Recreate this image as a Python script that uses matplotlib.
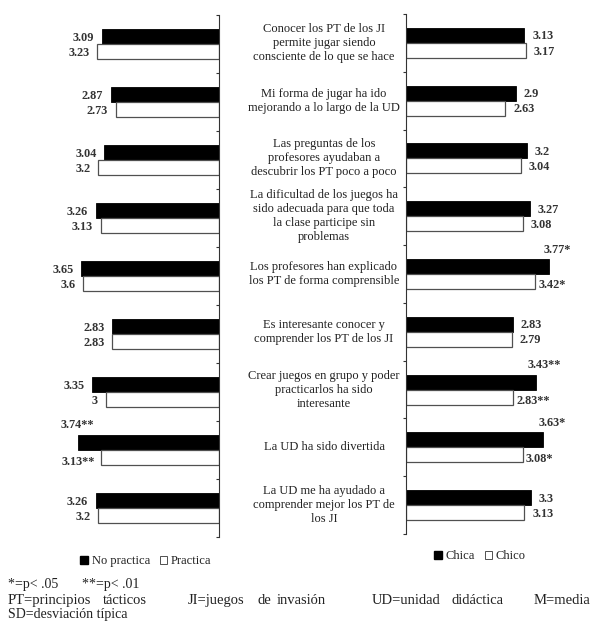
import matplotlib
matplotlib.use("Agg")
import matplotlib.pyplot as plt
import matplotlib.patches as mpatches
import matplotlib.transforms as mtransforms
import numpy as np

plt.rcParams["font.family"] = ["Liberation Serif", "DejaVu Serif"]

# ── data ───────────────────────────────────────────────────────────────────
items = [
    "Conocer los PT de los JI\npermite jugar siendo\nconsciente de lo que se hace",
    "Mi forma de jugar ha ido\nmejorando a lo largo de la UD",
    "Las preguntas de los\nprofesores ayudaban a\ndescubrir los PT poco a poco",
    "La dificultad de los juegos ha\nsido adecuada para que toda\nla clase participe sin\nproblemas",
    "Los profesores han explicado\nlos PT de forma comprensible",
    "Es interesante conocer y\ncomprender los PT de los JI",
    "Crear juegos en grupo y poder\npracticarlos ha sido\ninteresante",
    "La UD ha sido divertida",
    "La UD me ha ayudado a\ncomprender mejor los PT de\nlos JI",
]

no_practica = [3.09, 2.87, 3.04, 3.26, 3.65, 2.83, 3.35, 3.74, 3.26]
practica    = [3.23, 2.73, 3.2, 3.13, 3.6, 2.83, 3, 3.13, 3.2]
practica_sig = ["", "", "", "", "", "", "", "**", ""]

chica = [3.13, 2.9, 3.2, 3.27, 3.77, 2.83, 3.43, 3.63, 3.3]
chico = [3.17, 2.63, 3.04, 3.08, 3.42, 2.79, 2.83, 3.08, 3.13]
sexo_sig = ["", "", "", "", "*", "", "**", "*", ""]

W, H = 592, 626
BAR_H = 0.26
EDGE = "#505050"
VAL_KW = dict(fontsize=8.8, fontweight="bold", color="#333333")


def _frac(x0, y0, x1, y1):
    """pixel box (top-left origin) -> figure-fraction rect"""
    return [x0 / W, 1 - y1 / H, (x1 - x0) / W, (y1 - y0) / H]


fig = plt.figure(figsize=(W / 100, H / 100), dpi=100, facecolor="white")

ax_l = fig.add_axes(_frac(10, 15, 219, 537))
ax_r = fig.add_axes(_frac(405.5, 14, 590, 534))

y = np.arange(len(items))
y_top = y - BAR_H / 2
y_bot = y + BAR_H / 2

for ax in (ax_l, ax_r):
    ax.set_ylim(len(items) - 0.5, -0.5)
    ax.set_yticks(np.arange(-0.5, len(items) + 0.5, 1))
    ax.set_yticklabels([])
    ax.set_xticks([])
    for s in ("top", "bottom", "left", "right"):
        ax.spines[s].set_visible(False)

# left panel: grows to the left from a right-hand axis
ax_l.set_xlim(209 / 37.8, 0)
ax_l.spines["right"].set_visible(True)
ax_l.spines["right"].set_color("#333333")
ax_l.yaxis.tick_right()
ax_l.tick_params(axis="y", direction="in", length=2.5, color="#333333")

ax_l.barh(y_top, no_practica, height=BAR_H, color="black", edgecolor="black", linewidth=0.6)
ax_l.barh(y_bot, practica, height=BAR_H, color="white", edgecolor=EDGE, linewidth=0.9)

for i, (a, b, sig) in enumerate(zip(no_practica, practica, practica_sig)):
    if sig:
        ax_l.annotate(f"{a:g}{sig}", (a, y_top[i]), xytext=(0, 12.5), textcoords="offset points",
                      ha="center", va="center", **VAL_KW)
        ax_l.annotate(f"{b:g}{sig}", (b, y_bot[i]), xytext=(-4, -3), textcoords="offset points",
                      ha="right", va="center", **VAL_KW)
    else:
        ax_l.annotate(f"{a:g}", (a, y_top[i]), xytext=(-5.5, -0.8), textcoords="offset points",
                      ha="right", va="center", **VAL_KW)
        ax_l.annotate(f"{b:g}", (b, y_bot[i]), xytext=(-5.5, -0.8), textcoords="offset points",
                      ha="right", va="center", **VAL_KW)

# right panel
ax_r.set_xlim(0, 184.5 / 38.0)
ax_r.spines["left"].set_visible(True)
ax_r.spines["left"].set_color("#333333")
ax_r.tick_params(axis="y", direction="out", length=2.5, color="#333333")

ax_r.barh(y_top, chica, height=BAR_H, color="black", edgecolor="black", linewidth=0.6)
ax_r.barh(y_bot, chico, height=BAR_H, color="white", edgecolor=EDGE, linewidth=0.9)

for i, (a, b, sig) in enumerate(zip(chica, chico, sexo_sig)):
    if sig:
        ax_r.annotate(f"{a:g}{sig}", (a, y_top[i]), xytext=(6, 12), textcoords="offset points",
                      ha="center", va="center", **VAL_KW)
        ax_r.annotate(f"{b:g}{sig}", (b, y_bot[i]), xytext=(2.5, -2.7), textcoords="offset points",
                      ha="left", va="center", **VAL_KW)
    else:
        ax_r.annotate(f"{a:g}", (a, y_top[i]), xytext=(5.5, -0.8), textcoords="offset points",
                      ha="left", va="center", **VAL_KW)
        ax_r.annotate(f"{b:g}", (b, y_bot[i]), xytext=(5.5, -0.8), textcoords="offset points",
                      ha="left", va="center", **VAL_KW)

# item statements between the two panels
trans = mtransforms.blended_transform_factory(fig.transFigure, ax_r.transData)
for i, txt in enumerate(items):
    ax_r.text(324 / W, y[i], txt, transform=trans, ha="center", va="center",
              fontsize=9, color="#222222", linespacing=1.22, clip_on=False)

# legends
leg_kw = dict(frameon=False, fontsize=9, handlelength=0.6, handleheight=0.6,
              handletextpad=0.3, columnspacing=0.8, ncol=2, borderpad=0, labelcolor="#222222")
fig.legend(handles=[mpatches.Patch(facecolor="black", edgecolor="black", label="No practica"),
                    mpatches.Patch(facecolor="white", edgecolor=EDGE, linewidth=0.7, label="Practica")],
           loc="center", bbox_to_anchor=(146 / W, 1 - 561 / H), **leg_kw)
fig.legend(handles=[mpatches.Patch(facecolor="black", edgecolor="black", label="Chica"),
                    mpatches.Patch(facecolor="white", edgecolor=EDGE, linewidth=0.7, label="Chico")],
           loc="center", bbox_to_anchor=(480 / W, 1 - 556 / H), **leg_kw)

# footnotes (justified line: each word placed on its own, on a shared baseline)
NOTE_KW = dict(color="#222222", va="baseline", ha="left")
notes = [
    (8, 588, 10, "*=p< .05"), (82, 588, 10, "**=p< .01"),
    (8, 604, 10.5, "PT=principios"), (103, 604, 10.5, "tácticos"),
    (188, 604, 10.5, "JI=juegos"), (257, 604, 10.5, "de"), (277, 604, 10.5, "invasión"),
    (372, 604, 10.5, "UD=unidad"), (451, 604, 10.5, "didáctica"), (534, 604, 10.5, "M=media"),
    (8, 618, 10, "SD=desviación típica"),
]
for x_px, y_px, size, txt in notes:
    fig.text(x_px / W, 1 - y_px / H, txt, fontsize=size, **NOTE_KW)

fig.savefig("out.png", dpi=100, facecolor="white")
